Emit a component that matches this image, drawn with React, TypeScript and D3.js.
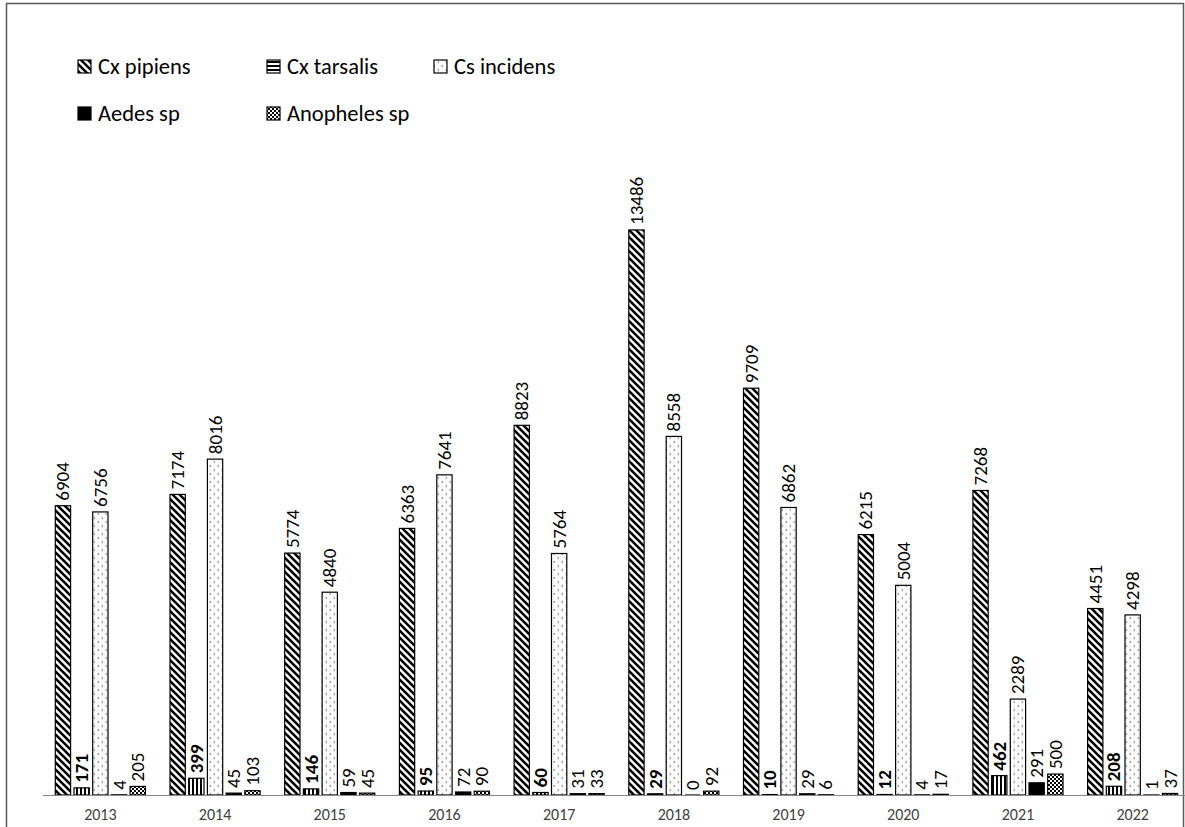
import React from "react";
import * as d3 from "d3";

const years = ["2013", "2014", "2015", "2016", "2017", "2018", "2019", "2020", "2021", "2022"];
const seriesNames = ["Cx pipiens", "Cx tarsalis", "Cs incidens", "Aedes sp", "Anopheles sp"];
const cxPipiens = [6904, 7174, 5774, 6363, 8823, 13486, 9709, 6215, 7268, 4451];
const cxTarsalis = [171, 399, 146, 95, 60, 29, 10, 12, 462, 208];
const csIncidens = [6756, 8016, 4840, 7641, 5764, 8558, 6862, 5004, 2289, 4298];
const aedesSp = [4, 45, 59, 72, 31, 0, 29, 4, 291, 1];
const anophelesSp = [205, 103, 45, 90, 33, 92, 6, 17, 500, 37];
const seriesValues = [cxPipiens, cxTarsalis, csIncidens, aedesSp, anophelesSp];
const fills = ["url(#pPip)", "url(#pTar)", "url(#pInc)", "#000", "url(#pAno)"];
const legendFills = ["url(#pPip)", "url(#pTarL)", "url(#pInc)", "#000", "url(#pAno)"];

const W = 1185;
const H = 827;
const FONT = "Carlito, Lato, 'Open Sans', sans-serif";

export default function App() {
  const x = d3.scaleBand<string>().domain(years).range([43, 43 + 114.7 * 10]).paddingInner(0).paddingOuter(0);
  const y = d3.scaleLinear().domain([0, 16000]).range([795, 124.6]);
  const slot = 18.7;
  const bw = 15.3;
  const groupW = slot * 4 + bw;

  const legendPos = [
    { x: 78, y: 60 },
    { x: 267, y: 60 },
    { x: 434, y: 60 },
    { x: 78, y: 107 },
    { x: 267, y: 107 },
  ];

  return (
    <svg width={W} height={H} style={{ position: "absolute", left: 0, top: 0, background: "#fff" }}>
      <defs>
        <pattern id="pPip" patternUnits="userSpaceOnUse" width="7" height="7">
          <rect width="7" height="7" fill="#fff" />
          <path d="M-1,-1 L8,8 M-4.5,2.5 L1,8 M2.5,-4.5 L8,1 M-1,6 L1,8 M6,-1 L8,1" stroke="#000" strokeWidth="2.6" />
        </pattern>
        <pattern id="pTar" patternUnits="userSpaceOnUse" width="4" height="4">
          <rect width="4" height="4" fill="#fff" />
          <rect x="0" y="0" width="2" height="4" fill="#000" />
        </pattern>
        <pattern id="pTarL" patternUnits="userSpaceOnUse" width="4" height="4" y="1">
          <rect width="4" height="4" fill="#fff" />
          <rect x="0" y="0" width="4" height="2" fill="#000" />
        </pattern>
        <pattern id="pInc" patternUnits="userSpaceOnUse" width="8" height="8">
          <rect width="8" height="8" fill="#fff" />
          <path d="M3,1 L1.5,2 L3,3 M5.5,5 L7,6 L5.5,7" stroke="#777" strokeWidth="0.8" fill="none" />
        </pattern>
        <pattern id="pAno" patternUnits="userSpaceOnUse" width="4" height="4">
          <rect width="4" height="4" fill="#fff" />
          <rect x="0" y="0" width="2" height="2" fill="#000" />
          <rect x="2" y="2" width="2" height="2" fill="#000" />
        </pattern>
      </defs>

      <rect x={6.5} y={3.5} width={1177} height={H + 20} fill="none" stroke="#595959" strokeWidth={1.5} />

      {legendPos.map((p, i) => (
        <g key={seriesNames[i]}>
          <rect x={p.x} y={p.y} width={13} height={13} fill={legendFills[i]} stroke="#000" strokeWidth={1.2} />
          <text x={p.x + 20} y={p.y + 13.5} fontFamily={FONT} fontSize={22.5} fill="#000">
            {seriesNames[i]}
          </text>
        </g>
      ))}

      {years.map((yr, yi) => {
        const x0 = (x(yr) as number) + (x.bandwidth() - groupW) / 2;
        return (
          <g key={yr}>
            {seriesValues.map((vals, si) => {
              const v = vals[yi];
              const bx = x0 + si * slot;
              const top = y(v);
              const h = Math.max(y(0) - top, 0);
              const cx = bx + bw / 2;
              return (
                <g key={si}>
                  {h > 0 && (
                    <rect x={bx} y={top} width={bw} height={h} fill={fills[si]} stroke="#000" strokeWidth={1.2} />
                  )}
                  {h === 0 && <line x1={bx} x2={bx + bw} y1={y(0)} y2={y(0)} stroke="#000" strokeWidth={1.2} />}
                  <text
                    transform={`translate(${cx},${top - 5}) rotate(-90)`}
                    textAnchor="start"
                    dominantBaseline="central"
                    fontFamily={FONT}
                    fontSize={19}
                    fontWeight={si === 1 ? "bold" : "normal"}
                    fill="#000"
                  >
                    {v}
                  </text>
                </g>
              );
            })}
            <text
              x={(x(yr) as number) + x.bandwidth() / 2}
              y={820}
              textAnchor="middle"
              fontFamily={FONT}
              fontSize={16}
              fill="#404040"
            >
              {yr}
            </text>
          </g>
        );
      })}

      <line x1={43} x2={W} y1={795.5} y2={795.5} stroke="#898989" strokeWidth={1.2} />
    </svg>
  );
}
